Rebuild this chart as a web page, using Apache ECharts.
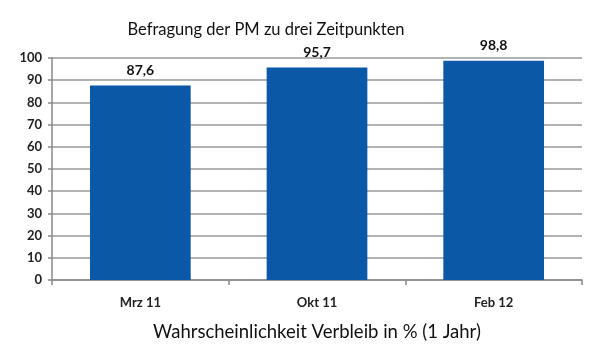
<!DOCTYPE html>
<html><head><meta charset="utf-8">
<script src="https://cdn.jsdelivr.net/npm/echarts@6/dist/echarts.min.js"></script>
<style>html,body{margin:0;padding:0;background:#fff}#c{width:600px;height:361px}</style>
</head><body><div id="c"></div>
<script>
const categories = ['Mrz 11', 'Okt 11', 'Feb 12'];
const values = [87.6, 95.7, 98.8];
const titleText = 'Befragung der PM zu drei Zeitpunkten';
const xAxisName = 'Wahrscheinlichkeit Verbleib in % (1 Jahr)';

const font = 'Lato';
const chart = echarts.init(document.getElementById('c'), null, {renderer: 'canvas'});
chart.setOption({
  animation: false,
  backgroundColor: '#fff',
  title: {
    text: titleText, left: 261, top: 16, textAlign: 'center',
    textStyle: {fontFamily: font, fontSize: 16.5, fontWeight: 'normal', color: '#111'}
  },
  grid: {left: 52, right: 18, top: 58, bottom: 81, containLabel: false},
  xAxis: {
    type: 'category', data: categories,
    name: xAxisName, nameLocation: 'middle', nameGap: 43,
    nameTextStyle: {fontFamily: font, fontSize: 18.5, fontWeight: 'normal', color: '#111'},
    axisLine: {lineStyle: {color: '#888', width: 1.5}},
    axisTick: {show: true, length: 5, lineStyle: {color: '#888', width: 1.5}},
    axisLabel: {fontFamily: font, fontSize: 13, fontWeight: 'bold', color: '#222', margin: 16}
  },
  yAxis: {
    type: 'value', min: 0, max: 100, interval: 10,
    axisLine: {show: true, lineStyle: {color: '#888', width: 1.5}},
    axisTick: {show: true, length: 4, lineStyle: {color: '#888', width: 1.5}},
    splitLine: {lineStyle: {color: '#999', width: 1.5}},
    axisLabel: {fontFamily: font, fontSize: 13, fontWeight: 'bold', color: '#222', margin: 10}
  },
  series: [{
    type: 'bar', data: values, barWidth: '57%',
    itemStyle: {color: '#0a58a6'},
    label: {
      show: true, position: 'top', distance: 8,
      fontFamily: font, fontSize: 14, fontWeight: 'bold', color: '#111',
      formatter: p => String(p.value).replace('.', ',')
    }
  }]
});
</script></body></html>
